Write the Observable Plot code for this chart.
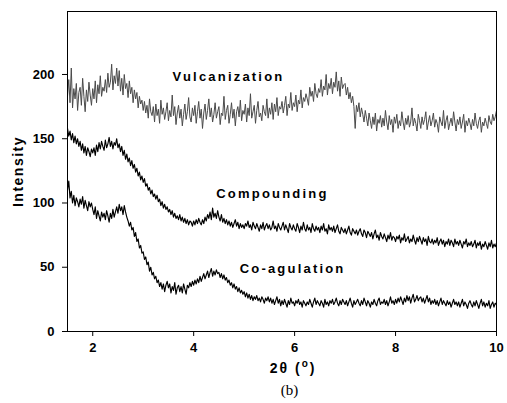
<!DOCTYPE html>
<html>
<head>
<meta charset="utf-8">
<script src="https://cdn.jsdelivr.net/npm/d3@7"></script>
<script src="https://cdn.jsdelivr.net/npm/@observablehq/plot@0.6"></script>
<style>
  html, body { margin: 0; padding: 0; background: white; }
</style>
</head>
<body>
<div id="chart"></div>
<script>
const theta = [
1.500,1.525,1.550,1.575,1.600,1.625,1.650,1.675,1.700,1.725,
1.750,1.775,1.800,1.825,1.850,1.875,1.900,1.925,1.950,1.975,
2.000,2.025,2.050,2.075,2.100,2.125,2.150,2.175,2.200,2.225,
2.250,2.275,2.300,2.325,2.350,2.375,2.400,2.425,2.450,2.475,
2.500,2.525,2.550,2.575,2.600,2.625,2.650,2.675,2.700,2.725,
2.750,2.775,2.800,2.825,2.850,2.875,2.900,2.925,2.950,2.975,
3.000,3.025,3.050,3.075,3.100,3.125,3.150,3.175,3.200,3.225,
3.250,3.275,3.300,3.325,3.350,3.375,3.400,3.425,3.450,3.475,
3.500,3.525,3.550,3.575,3.600,3.625,3.650,3.675,3.700,3.725,
3.750,3.775,3.800,3.825,3.850,3.875,3.900,3.925,3.950,3.975,
4.000,4.025,4.050,4.075,4.100,4.125,4.150,4.175,4.200,4.225,
4.250,4.275,4.300,4.325,4.350,4.375,4.400,4.425,4.450,4.475,
4.500,4.525,4.550,4.575,4.600,4.625,4.650,4.675,4.700,4.725,
4.750,4.775,4.800,4.825,4.850,4.875,4.900,4.925,4.950,4.975,
5.000,5.025,5.050,5.075,5.100,5.125,5.150,5.175,5.200,5.225,
5.250,5.275,5.300,5.325,5.350,5.375,5.400,5.425,5.450,5.475,
5.500,5.525,5.550,5.575,5.600,5.625,5.650,5.675,5.700,5.725,
5.750,5.775,5.800,5.825,5.850,5.875,5.900,5.925,5.950,5.975,
6.000,6.025,6.050,6.075,6.100,6.125,6.150,6.175,6.200,6.225,
6.250,6.275,6.300,6.325,6.350,6.375,6.400,6.425,6.450,6.475,
6.500,6.525,6.550,6.575,6.600,6.625,6.650,6.675,6.700,6.725,
6.750,6.775,6.800,6.825,6.850,6.875,6.900,6.925,6.950,6.975,
7.000,7.025,7.050,7.075,7.100,7.125,7.150,7.175,7.200,7.225,
7.250,7.275,7.300,7.325,7.350,7.375,7.400,7.425,7.450,7.475,
7.500,7.525,7.550,7.575,7.600,7.625,7.650,7.675,7.700,7.725,
7.750,7.775,7.800,7.825,7.850,7.875,7.900,7.925,7.950,7.975,
8.000,8.025,8.050,8.075,8.100,8.125,8.150,8.175,8.200,8.225,
8.250,8.275,8.300,8.325,8.350,8.375,8.400,8.425,8.450,8.475,
8.500,8.525,8.550,8.575,8.600,8.625,8.650,8.675,8.700,8.725,
8.750,8.775,8.800,8.825,8.850,8.875,8.900,8.925,8.950,8.975,
9.000,9.025,9.050,9.075,9.100,9.125,9.150,9.175,9.200,9.225,
9.250,9.275,9.300,9.325,9.350,9.375,9.400,9.425,9.450,9.475,
9.500,9.525,9.550,9.575,9.600,9.625,9.650,9.675,9.700,9.725,
9.750,9.775,9.800,9.825,9.850,9.875,9.900,9.925,9.950,9.975,
10.000
];

const vulcanization = [
183,196,178,205,174,189,181,193,172,186,
190,176,197,183,171,188,179,194,184,176,
189,181,195,178,192,185,199,183,190,187,
196,186,201,190,194,208,188,199,193,205,
191,203,187,197,184,200,189,193,182,195,
185,190,178,188,181,186,174,183,177,180,
172,179,170,176,166,181,171,168,175,163,
177,168,173,162,180,169,174,165,171,178,
164,172,167,184,168,175,161,170,176,166,
173,160,169,177,165,171,182,167,163,174,
168,176,162,171,179,166,173,158,170,177,
165,172,181,167,174,163,169,178,166,171,
175,161,170,168,183,165,172,176,162,169,
178,166,173,160,171,175,167,180,164,172,
169,177,163,174,168,185,166,171,176,162,
172,179,167,170,164,176,171,168,181,166,
174,169,178,165,177,171,182,168,175,173,
179,170,176,183,168,177,174,186,172,178,
175,184,171,180,177,188,174,182,179,185,
181,176,190,183,187,179,193,185,182,189,
186,196,183,191,188,200,184,193,189,197,
185,194,190,202,187,195,183,198,189,192,
193,184,190,181,186,178,183,175,158,176,
171,178,167,174,169,163,172,166,160,170,
164,158,167,161,170,156,165,162,168,159,
166,160,172,163,157,168,161,165,155,167,
162,169,158,164,160,171,163,157,166,161,
168,159,163,174,160,166,162,156,169,164,
158,167,161,165,171,157,163,168,160,164,
170,159,165,162,155,167,163,160,172,158,
164,168,157,162,166,160,171,163,156,165,
161,167,158,163,169,155,164,160,166,162,
157,165,160,170,162,158,164,167,155,163,
160,166,162,158,168,163,161,169,164,167,
172
];

const compounding = [
158,152,156,149,154,147,152,146,150,144,
148,141,146,139,144,137,143,140,136,142,
139,143,137,145,140,147,142,148,144,141,
149,143,146,151,144,148,142,147,145,150,
143,146,140,144,137,141,134,138,132,135,
129,133,127,130,124,127,121,124,118,121,
116,119,113,115,110,112,107,110,105,107,
103,106,101,103,98,101,96,99,95,97,
93,95,91,94,89,92,88,90,87,91,
86,89,85,88,84,87,83,86,85,82,
86,83,87,84,88,85,83,87,84,89,
86,91,88,93,87,96,89,92,88,94,
89,86,91,85,88,84,87,83,86,82,
85,81,84,87,82,85,80,84,81,83,
80,84,82,86,81,83,79,85,82,80,
84,81,78,83,80,85,79,82,84,80,
83,79,81,86,80,82,78,84,81,79,
82,85,79,83,80,77,84,81,79,83,
80,78,84,81,77,82,79,85,80,78,
83,79,81,77,84,80,78,82,79,81,
77,82,79,84,78,80,76,83,79,81,
78,82,77,80,83,78,76,81,79,77,
80,76,79,82,77,75,80,78,76,79,
75,78,80,76,74,79,77,73,78,76,
74,77,72,76,79,73,75,71,77,74,
72,76,73,70,75,72,77,71,74,73,
70,74,72,75,69,73,71,76,70,72,
74,69,72,70,75,71,68,73,70,74,
71,68,73,70,72,67,74,70,69,72,
68,71,69,73,67,70,72,68,71,66,
70,68,72,67,71,69,66,72,68,70,
67,71,68,65,70,68,72,66,69,67,
70,66,68,71,65,69,67,70,64,68,
66,70,67,64,69,66,71,65,68,66,
69
];

const coagulation = [
110,117,104,109,100,106,98,104,101,97,
103,99,105,96,102,98,94,101,97,100,
95,91,97,88,94,90,86,93,89,92,
87,94,90,85,92,88,95,89,93,97,
92,99,94,97,91,98,93,89,86,82,
85,79,81,74,77,70,72,65,67,61,
62,56,58,52,54,47,50,44,46,41,
43,38,40,35,38,33,37,31,36,39,
34,37,30,35,32,38,29,34,36,31,
35,30,37,33,29,36,34,38,35,39,
36,40,37,41,38,43,39,42,45,41,
44,47,42,46,49,43,47,44,48,45,
46,42,45,41,44,40,42,38,40,36,
38,34,37,33,35,31,34,30,32,29,
31,27,30,26,29,25,28,24,27,25,
28,24,26,23,27,25,22,26,24,27,
23,26,22,25,21,24,27,22,25,20,
24,21,25,22,19,24,21,26,22,23,
20,24,22,25,21,23,19,24,22,20,
23,21,25,22,19,23,26,21,24,22,
20,24,22,19,25,21,23,20,24,22,
25,21,23,26,22,20,24,21,25,23,
21,24,20,23,26,22,19,24,21,23,
25,22,20,24,21,26,23,20,24,22,
19,23,21,25,22,20,24,26,21,23,
22,25,21,24,20,23,27,22,24,21,
25,22,26,23,27,24,21,26,23,28,
24,27,22,26,29,23,25,28,24,26,
27,23,26,22,25,28,23,26,21,24,
22,25,21,24,20,23,26,21,24,22,
20,24,21,23,19,22,25,21,23,20,
23,19,22,25,20,23,21,18,22,24,
21,19,23,20,24,21,18,22,25,20,
23,19,22,20,24,18,21,23,19,22,
21
];

const seriesNames = ["Vulcanization", "Compounding", "Co-agulation"];
const labelTheta = [4.69, 5.56, 5.96];
const labelValue = [198, 107, 49];
const xTicks = [2, 4, 6, 8, 10];
const yTicks = [0, 50, 100, 150, 200];
const yLabel = "Intensity";
const captionText = "(b)";

const toRows = (vals) => theta.map((t, i) => ({theta: t, value: vals[i]}));
const vulcRows = toRows(vulcanization);
const compRows = toRows(compounding);
const coagRows = toRows(coagulation);
const labelRows = seriesNames.map((n, i) => ({name: n, theta: labelTheta[i], value: labelValue[i]}));

const chart = Plot.plot({
  width: 507,
  height: 403,
  marginLeft: 67,
  marginRight: 11,
  marginTop: 11,
  marginBottom: 72,
  style: {fontFamily: "'Liberation Sans', Arial, sans-serif", fontSize: "13px", fontWeight: "bold", background: "white", color: "black"},
  x: {domain: [1.5, 10], ticks: xTicks, tickSize: 5, tickPadding: 6, label: null},
  y: {domain: [0, 249], ticks: yTicks, tickSize: 5, tickPadding: 8, label: null},
  marks: [
    Plot.line(vulcRows, {x: "theta", y: "value", stroke: "#4a4a4a", strokeWidth: 1}),
    Plot.line(compRows, {x: "theta", y: "value", stroke: "#000", strokeWidth: 1.15}),
    Plot.line(coagRows, {x: "theta", y: "value", stroke: "#000", strokeWidth: 1.15}),
    Plot.text(labelRows, {x: "theta", y: "value", text: "name", fontSize: 13, fontWeight: "bold", fill: "black"}),
    Plot.text([yLabel], {frameAnchor: "left", textAnchor: "middle", text: d => d, rotate: -90, dx: -49, fontSize: 14, fontWeight: "bold", fill: "black"}),
    Plot.text([captionText], {x: [5.9], frameAnchor: "bottom", text: d => d, dy: 63, fontSize: 15, fontWeight: "normal", fontFamily: "'Liberation Serif', 'Times New Roman', serif", fill: "black"}),
    Plot.frame({stroke: "black", strokeWidth: 1})
  ]
});

document.getElementById("chart").appendChild(chart);

// letter spacing for series labels and y label
d3.select(chart).selectAll("text").each(function() {
  const t = this.textContent;
  if (seriesNames.includes(t)) d3.select(this).style("letter-spacing", "2.2px");
  if (t === yLabel) d3.select(this).style("letter-spacing", "1.5px");
});

// x-axis label with superscript "o"
const xs = chart.scale("x");
const xl = d3.select(chart).append("text")
  .attr("x", xs.apply(5.98))
  .attr("y", 373)
  .attr("text-anchor", "middle")
  .style("font-size", "14px")
  .style("font-weight", "bold")
  .style("letter-spacing", "2px")
  .attr("fill", "black");
xl.append("tspan").text("2θ (");
xl.append("tspan").attr("dy", -6).style("font-size", "10px").text("o");
xl.append("tspan").attr("dy", 6).text(")");
</script>
</body>
</html>
